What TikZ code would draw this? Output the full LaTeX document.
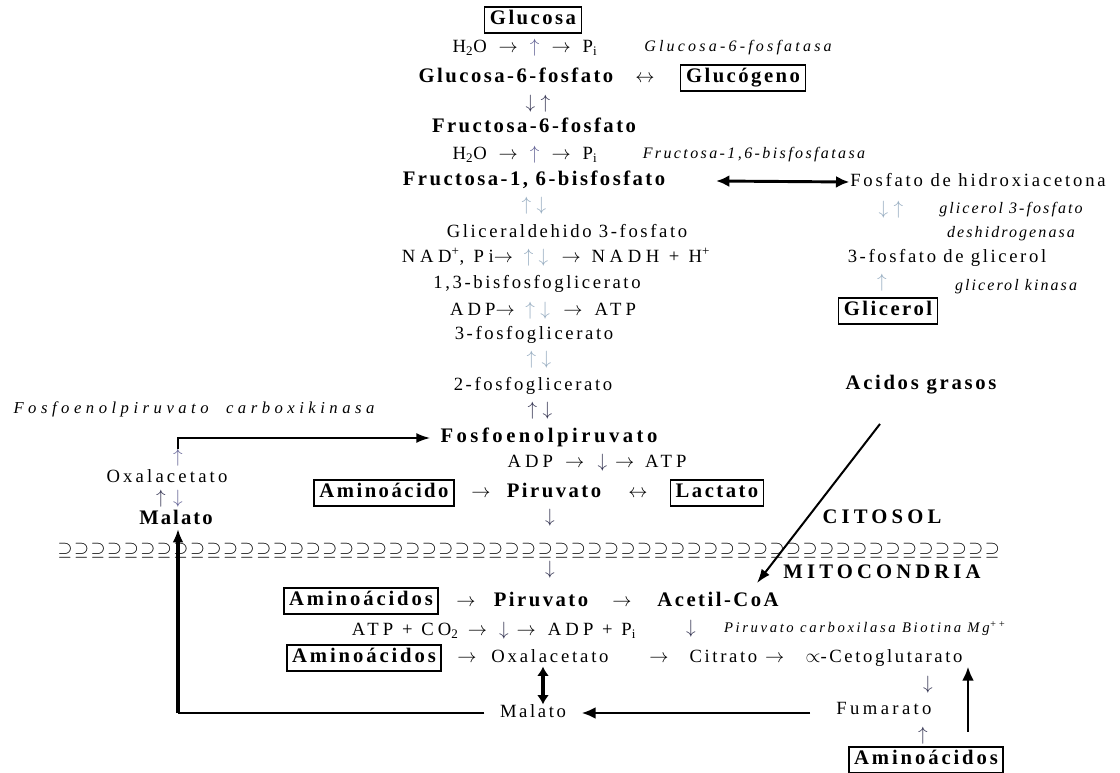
\documentclass[tikz,border=0pt]{standalone}
\usepackage{fontspec}
\setmainfont{Liberation Serif}
\usetikzlibrary{arrows.meta,calc,positioning}

\definecolor{arrl}{RGB}{150,172,192}
\definecolor{arrm}{RGB}{100,100,150}
\definecolor{arrd}{RGB}{50,50,80}

\newcommand{\rar}{\ensuremath{\rightarrow}}
\newcommand{\uar}{\ensuremath{\uparrow}}
\newcommand{\dar}{\ensuremath{\downarrow}}
\newcommand{\lrar}{\ensuremath{\leftrightarrow}}

\begin{document}
\begin{tikzpicture}[x=0.75pt,y=-0.75pt,
    txt/.style={inner sep=0.5pt,text height=9pt,text depth=2.5pt,font=\fontsize{14}{16}\selectfont\addfontfeature{LetterSpace=14}},
    bld/.style={inner sep=0.5pt,text height=9.5pt,text depth=2.5pt,font=\fontsize{15.5}{17}\selectfont\bfseries\addfontfeature{LetterSpace=12}},
    caps/.style={bld,font=\fontsize{15.5}{17}\selectfont\bfseries\addfontfeature{LetterSpace=20}},
    box/.style={bld,draw,line width=1.1pt,inner xsep=4pt,minimum height=19.5pt},
    wbox/.style={box,font=\fontsize{15.5}{17}\selectfont\bfseries\addfontfeature{LetterSpace=14}},
    enz/.style={inner sep=1pt,font=\fontsize{12}{18}\selectfont\itshape\addfontfeature{LetterSpace=13}},
    glyph/.style={inner sep=0pt,font=\fontsize{15}{15}\selectfont},
    mem/.style={inner sep=0pt,font=\fontsize{14}{14}\selectfont},
    dbl/.style={line width=2.2pt,{Latex[length=10pt,width=9pt]}-{Latex[length=10pt,width=9pt]}},
    dblv/.style={line width=3pt,{Latex[length=7pt,width=9pt]}-{Latex[length=7pt,width=9pt]}},
    thn/.style={line width=1.5pt,-{Latex[length=10.5pt,width=7.5pt]}},
    thk/.style={line width=2.2pt,-{Latex[length=10.5pt,width=9pt]}}]
    \useasboundingbox (0,0) rectangle (1120,773);

    % glucosa -> piruvato
    \node[box] (glc) at (533,20) {Glucosa};
    \node[txt] (h2oA) at (525,48) {H\textsubscript{2}O\hspace{9pt}\rar\hspace{9pt}\textcolor{arrm}{\uar}\hspace{9pt}\rar\hspace{9pt}P\textsubscript{i}};
    \node[enz] (g6pasa) at (738,48) {\addfontfeature{LetterSpace=20}Glucosa-6-fosfatasa};
    \node[bld] (g6p) at (516,78) {Glucosa-6-fosfato};
    \node[bld] (g6pglg) at (645,78) {\lrar};
    \node[box] (glg) at (743,78) {Glucógeno};
    \node[glyph,text=arrd] (g6pf6p) at (538,104) {$\downarrow\;\uparrow$};
    \node[bld] (f6p) at (534,128) {Fructosa-6-fosfato};
    \node[txt] (h2oB) at (525,155) {H\textsubscript{2}O\hspace{9pt}\rar\hspace{9pt}\textcolor{arrm}{\uar}\hspace{9pt}\rar\hspace{9pt}P\textsubscript{i}};
    \node[enz] (f16pasa) at (754,155) {\addfontfeature{LetterSpace=15}Fructosa-1,6-bisfosfatasa};
    \node[bld] (f16bp) at (534,181) {Fructosa-1, 6-bisfosfato};
    \node[glyph,text=arrl] (aldol) at (534,206) {$\uparrow\;\downarrow$};
    \node[txt] (ga3p) at (567,233) {Gliceraldehido 3-fosfato};
    \node[txt] (nad) at (556,258) {\addfontfeature{LetterSpace=25}NAD\textsuperscript{+}, Pi\rar\hspace{8pt}\textcolor{arrl}{$\uparrow\;\downarrow$}\hspace{10pt}\rar\hspace{8pt}NADH + H\textsuperscript{+}};
    \node[txt] (bpg) at (537,284) {1,3-bisfosfoglicerato};
    \node[txt] (adpA) at (543,311) {\addfontfeature{LetterSpace=22}ADP\rar\hspace{8pt}\textcolor{arrl}{$\uparrow\;\downarrow$}\hspace{10pt}\rar\hspace{9pt}ATP};
    \node[txt] (pg3) at (534,335) {3-fosfoglicerato};
    \node[glyph,text=arrl] (mutase) at (539,360) {$\uparrow\;\downarrow$};
    \node[txt] (pg2) at (533,386) {2-fosfoglicerato};
    \node[glyph,text=arrd] (enolase) at (540,411) {$\uparrow\;\downarrow$};
    \node[bld] (pep) at (549,438) {\addfontfeature{LetterSpace=17}Fosfoenolpiruvato};
    \node[txt] (adpB) at (597,463) {\addfontfeature{LetterSpace=22}ADP\hspace{9pt}\rar\hspace{10pt}\textcolor{arrd}{\dar}\hspace{6pt}\rar\hspace{8pt}ATP};
    \node[box] (aa1) at (384,493) {Aminoácido};
    \node[txt] (aa1pyr) at (481,493) {\rar};
    \node[bld] (pyr) at (554,493) {Piruvato};
    \node[txt] (pyrlac) at (638,493) {\lrar};
    \node[box] (lac) at (717,493) {Lactato};
    \node[glyph,text=arrd] (pyrdown) at (550,518) {\dar};

    % glicerol
    \node[txt] (dhap) at (978,182) {\addfontfeature{LetterSpace=15}Fosfato de hidroxiacetona};
    \node[glyph,text=arrl] (g3pdh) at (891,210) {$\downarrow\;\uparrow$};
    \node[enz,align=center] (g3pdhenz) at (1011,222) {glicerol 3-fosfato\\deshidrogenasa};
    \node[txt] (g3p) at (947,258) {3-fosfato de glicerol};
    \node[glyph,text=arrl] (gk) at (882,283) {\uar};
    \node[enz] (gkenz) at (1016,287) {glicerol kinasa};
    \node[box] (glyc) at (888,311) {Glicerol};
    \node[bld] (fa) at (921,385) {\addfontfeature{LetterSpace=13}Acidos grasos};

    % oxalacetato citosolico
    \node[enz,font=\fontsize{12.5}{14}\selectfont\itshape\addfontfeature{LetterSpace=27}] (pepck) at (194,409) {Fosfoenolpiruvato\ \ carboxikinasa};
    \node[glyph,text=arrm] (oaapep) at (178,458) {\uar};
    \node[txt] (oaaL) at (167,478) {\addfontfeature{LetterSpace=17}Oxalacetato};
    \node[glyph,text=arrd,font=\fontsize{14}{14}\selectfont] (malup) at (161,499) {\uar};
    \node[glyph,text=arrm,font=\fontsize{14}{14}\selectfont] (oaadown) at (178,499) {\dar};
    \node[bld] (malL) at (176,520) {\addfontfeature{LetterSpace=10}Malato};

    % membrana
    \node[caps] (cito) at (882,519) {CITOSOL};
    \foreach \i in {0,...,56}
        \node[mem] (m\i) at (65+16.56*\i,551) {$\supseteq$};
    \node[glyph,text=arrd] (mitodown) at (550,570) {\dar};
    \node[caps] (mito) at (882,574) {MITOCONDRIA};

    % mitocondria
    \node[wbox] (aa2) at (361,601) {Aminoácidos};
    \node[txt] (aa2pyr) at (466,602) {\rar};
    \node[bld] (pyrM) at (541,602) {Piruvato};
    \node[txt] (pyracoa) at (622,602) {\rar};
    \node[bld] (acoa) at (718,602) {Acetil-CoA};
    \node[txt] (pc) at (494,631) {\addfontfeature{LetterSpace=22}ATP + CO\textsubscript{2}\hspace{7pt}\rar\hspace{9pt}\textcolor{arrd}{\dar}\hspace{6pt}\rar\hspace{9pt}ADP + P\textsubscript{i}};
    \node[glyph,text=arrd] (pdh) at (691,629) {\dar};
    \node[enz,font=\fontsize{11}{12}\selectfont\itshape\addfontfeature{LetterSpace=18}] (pcenz) at (865,629) {Piruvato carboxilasa Biotina Mg\textsuperscript{++}};
    \node[wbox] (aa3) at (364,658) {Aminoácidos};
    \node[txt] (aa3oaa) at (467,658) {\rar};
    \node[txt] (oaaM) at (550,658) {\addfontfeature{LetterSpace=15}Oxalacetato};
    \node[txt] (oaacit) at (659,658) {\rar};
    \node[txt] (cit) at (737,658) {Citrato\hspace{6pt}\rar};
    \node[txt] (akg) at (884,658) {$\propto$-Cetoglutarato};
    \node[glyph,text=arrd] (akgfum) at (928,685) {\dar};
    \node[txt] (malM) at (533,713) {Malato};
    \node[txt] (fum) at (884,710) {\addfontfeature{LetterSpace=18}Fumarato};
    \node[glyph,text=arrd] (aafum) at (923,736) {\uar};
    \node[wbox] (aa4) at (926,760) {Aminoácidos};

    \coordinate (lcol) at (178,0);
    \coordinate (mcol) at (543,0);
    \coordinate (rcol) at (968,0);

    \path[dbl] ($(f16bp.east)+(50,0)$) edge (dhap.west);
    \draw[thn,shorten >=7pt] (oaapep.north) |- (pep.west);
    \draw[thn] ($(fa.south)+(-41,30)$) -- ($(acoa.north)+(39,-10)$);
    \draw[dblv] (oaaM.south -| mcol) -- (malM.north -| mcol);
    \draw[thk,shorten <=19pt,shorten >=11pt] (fum.west |- malM.east) -- (malM.east);
    \draw[line width=1.5pt,shorten <=11pt] (malM.west) -- (malM.west -| lcol);
    \draw[line width=2.8pt,-{Latex[length=10pt,width=8pt]}] (malM.west -| lcol) -- (malL.south -| lcol);
    \draw[thk,shorten <=11pt] (aa4.north -| rcol) -- (akg.south -| rcol);
\end{tikzpicture}
\end{document}
